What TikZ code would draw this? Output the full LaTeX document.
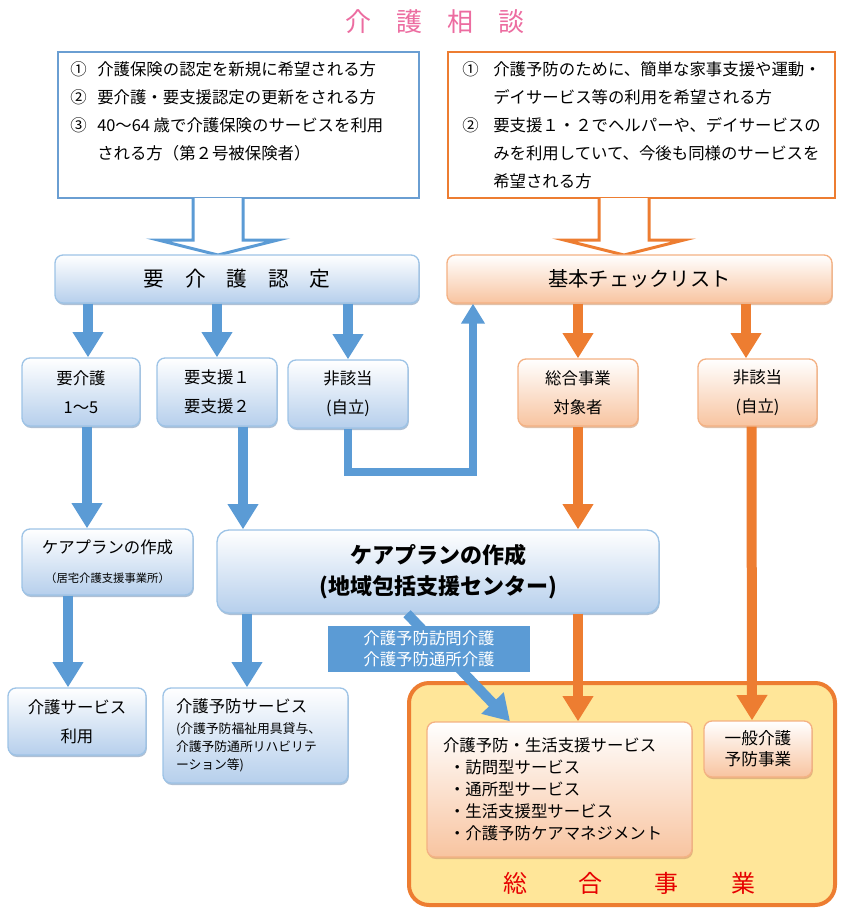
\documentclass[tikz,border=0pt]{standalone}
\usepackage{fontspec}
\setmainfont{Noto Sans CJK JP}
\usetikzlibrary{calc,shadows,arrows.meta}
\definecolor{kblue}{RGB}{91,155,213}
\definecolor{korange}{RGB}{237,125,49}
\definecolor{kbord}{RGB}{157,195,230}
\definecolor{kfill}{RGB}{182,207,236}
\definecolor{obord}{RGB}{244,177,131}
\definecolor{ofill}{RGB}{248,196,160}
\definecolor{kshadow}{RGB}{120,150,185}
\definecolor{oshadow}{RGB}{205,150,110}
\definecolor{jyellow}{RGB}{255,230,153}
\definecolor{pinkT}{RGB}{236,108,160}
\definecolor{redT}{RGB}{230,0,0}
\definecolor{frameblue}{RGB}{106,158,210}
\def\hollowarrow[#1](#2)(#3){\draw[#1] ($(#2)+(-25,0)$) -- ($(#2|-#3)+(-25,-15)$) -- ($(#2|-#3)+(-60,-15)$) -- (#3) -- ($(#2|-#3)+(60,-15)$) -- ($(#2|-#3)+(25,-15)$) -- ($(#2)+(25,0)$);}
\tikzset{
  bbox/.style={draw=kbord, line width=1pt, rounded corners=6pt, top color=white, bottom color=kfill,
    drop shadow={shadow xshift=0.6pt, shadow yshift=-1.5pt, fill=kshadow, opacity=0.6}},
  obox/.style={draw=obord, line width=1pt, rounded corners=6pt, top color=white, bottom color=ofill,
    drop shadow={shadow xshift=0.6pt, shadow yshift=-1.5pt, fill=oshadow, opacity=0.6}},
  barrow/.style={draw=kblue, line width=7.5pt, -{Triangle[width=22pt,length=19pt]}},
  oarrow/.style={draw=korange, line width=7.5pt, -{Triangle[width=22pt,length=19pt]}},
  txt/.style={font=\fontsize{12.3pt}{21.75pt}\selectfont, align=center},
}
\begin{document}
\begin{tikzpicture}[x=0.75pt, y=-0.75pt]
%%%%% START %%%%%
\useasboundingbox (0,0) rectangle (849,917);

\node[font=\fontsize{19.5pt}{22pt}\selectfont, text=pinkT] (title) at (435,22) {介\hspace{18.75pt}護\hspace{18.75pt}相\hspace{18.75pt}談};

% who comes in
\node[draw=frameblue, line width=1.5pt, minimum width=270.75pt, minimum height=109.5pt] (appl) at (238.5,125) {};
\node[anchor=north west, inner sep=0pt, align=left, font=\fontsize{12.3pt}{21pt}\selectfont] (applt) at (70,61)
  {\makebox[20.25pt][l]{①}介護保険の認定を新規に希望される方\\
   \makebox[20.25pt][l]{②}要介護・要支援認定の更新をされる方\\
   \makebox[20.25pt][l]{③}40～64 歳で介護保険のサービスを利用\\
   \makebox[20.25pt][l]{}される方（第２号被保険者）};
\node[draw=korange, line width=1.5pt, minimum width=290.25pt, minimum height=109.5pt] (applr) at (641.5,125) {};
\node[anchor=north west, inner sep=0pt, align=left, font=\fontsize{12.3pt}{21pt}\selectfont] (applrt) at (462,61)
  {\makebox[23.25pt][l]{①}介護予防のために、簡単な家事支援や運動・\\
   \makebox[23.25pt][l]{}デイサービス等の利用を希望される方\\
   \makebox[23.25pt][l]{②}要支援１・２でヘルパーや、デイサービスの\\
   \makebox[23.25pt][l]{}みを利用していて、今後も同様のサービスを\\
   \makebox[23.25pt][l]{}希望される方};

\coordinate (hlt) at (218,198);
\coordinate (hlb) at (218,255);
\coordinate (hrt) at (624,198);
\coordinate (hrb) at (624,255);
\hollowarrow[draw=kblue, line width=2.25pt, fill=white](hlt)(hlb)
\hollowarrow[draw=korange, line width=2.25pt, fill=white](hrt)(hrb)

% first step
\node[bbox, minimum width=273pt, minimum height=36pt, font=\fontsize{15.5pt}{18pt}\selectfont] (nin) at (237,279)
  {要\hspace{15.6pt}介\hspace{15.6pt}護\hspace{15.6pt}認\hspace{15.6pt}定};
\node[obox, minimum width=288.75pt, minimum height=36pt, font=\fontsize{15.2pt}{18pt}\selectfont] (chk) at (639.5,279) {基本チェックリスト};

\node[bbox, txt, minimum width=88.5pt, minimum height=51pt] (kaigo) at (81,392) {要介護\\1～5};
\node[bbox, txt, minimum width=90pt, minimum height=51pt] (shien) at (217,392) {要支援１\\要支援２};
\node[bbox, txt, minimum width=90pt, minimum height=51pt] (hi1) at (348,394) {非該当\\(自立)};
\node[obox, txt, minimum width=90pt, minimum height=50.25pt] (sogo) at (578,392.5) {総合事業\\対象者};
\node[obox, txt, minimum width=89.25pt, minimum height=50.25pt] (hi2) at (757.5,392.5) {非該当\\(自立)};

% care plans
\node[bbox, txt, minimum width=128.25pt, minimum height=49.5pt] (cps) at (107.5,562)
  {ケアプランの作成\\{\fontsize{8.5pt}{10pt}\selectfont （居宅介護支援事業所）}};
\node[bbox, rounded corners=9pt, minimum width=331.5pt, minimum height=62.25pt, align=center,
  font=\fontsize{16.5pt}{23pt}\selectfont\bfseries] (cpl) at (438,571.5) {ケアプランの作成\\(地域包括支援センター)};

% services
\node[bbox, txt, minimum width=103.5pt, minimum height=50.25pt] (ksv) at (77,721.5) {介護サービス\\利用};
\node[bbox, minimum width=138.75pt, minimum height=71.25pt, inner xsep=9.75pt, text width=119.25pt, align=left,
  font=\fontsize{12.3pt}{13.5pt}\selectfont] (ysv) at (255.5,735.5)
  {介護予防サービス\\[2.25pt]{\fontsize{9.6pt}{13.5pt}\selectfont (介護予防福祉用具貸与、\\介護予防通所リハビリテ\\ーション等)}};

\node[draw=korange, line width=3pt, fill=jyellow, rounded corners=15pt, minimum width=319.5pt, minimum height=166.5pt] (sogoj) at (622,794) {};
\node[obox, minimum width=198.75pt, minimum height=101.25pt, inner xsep=12pt, text width=174.75pt, align=left,
  font=\fontsize{12.3pt}{16.5pt}\selectfont] (seikatsu) at (559.5,789.5)
  {介護予防・生活支援サービス\\
   \hspace*{4.5pt}・訪問型サービス\\
   \hspace*{4.5pt}・通所型サービス\\
   \hspace*{4.5pt}・生活支援型サービス\\
   \hspace*{4.5pt}・介護予防ケアマネジメント\\[3pt]};
\node[obox, minimum width=81pt, minimum height=42pt, align=center, font=\fontsize{12.5pt}{15.75pt}\selectfont] (ippan) at (758,749) {一般介護\\予防事業};
\node[text=redT, font=\fontsize{18pt}{20pt}\selectfont] (sogojt) at (629,883) {総\hspace{39pt}合\hspace{39pt}事\hspace{39pt}業};

% arrows
\draw[barrow] ($(kaigo.north|-nin.south)+(7,0)$) -- ($(kaigo.north)+(7,0)$);
\draw[barrow] (shien.north|-nin.south) -- (shien.north);
\draw[barrow] (hi1.north|-nin.south) -- (hi1.north);
\draw[barrow] ($(kaigo.south)+(6,0)$) -- ($(kaigo.south|-cps.north)+(6,0)$);
\draw[barrow] ($(shien.south)+(26,0)$) -- ($(shien.south|-cpl.north)+(26,0)$);
\draw[barrow] ($(cps.south-|ksv.north)+(-9,0)$) -- ($(ksv.north)+(-9,0)$);
\draw[barrow] ($(cpl.south-|ysv.north)+(-8.5,0)$) -- ($(ysv.north)+(-8.5,0)$);
\coordinate (turn) at (473,472);
\draw[draw=kblue, line width=6pt, -{Triangle[width=17pt,length=15pt]}] (hi1.south) |- (turn) -- (turn|-chk.south);

\draw[oarrow] (sogo.north|-chk.south) -- (sogo.north);
\draw[oarrow] ($(hi2.north|-chk.south)+(-11.5,0)$) -- ($(hi2.north)+(-11.5,0)$);
\draw[oarrow] (sogo.south) -- (sogo.south|-cpl.north);
\draw[oarrow] (cpl.south-|sogo.south) -- (seikatsu.north-|sogo.south);
\draw[oarrow] ($(hi2.south)+(-6,0)$) -- ($(ippan.north)+(-6,0)$);

\draw[barrow] ($(cpl.south)+(-31,0)$) -- ($(seikatsu.north)+(-49.5,0)$);
\node[fill=kblue, text=white, minimum width=151.5pt, minimum height=34.5pt, align=center,
  font=\fontsize{12.3pt}{15.75pt}\selectfont] (lbl) at (429,649) {介護予防訪問介護\\介護予防通所介護};
%%%%% END %%%%%
\end{tikzpicture}
\end{document}
